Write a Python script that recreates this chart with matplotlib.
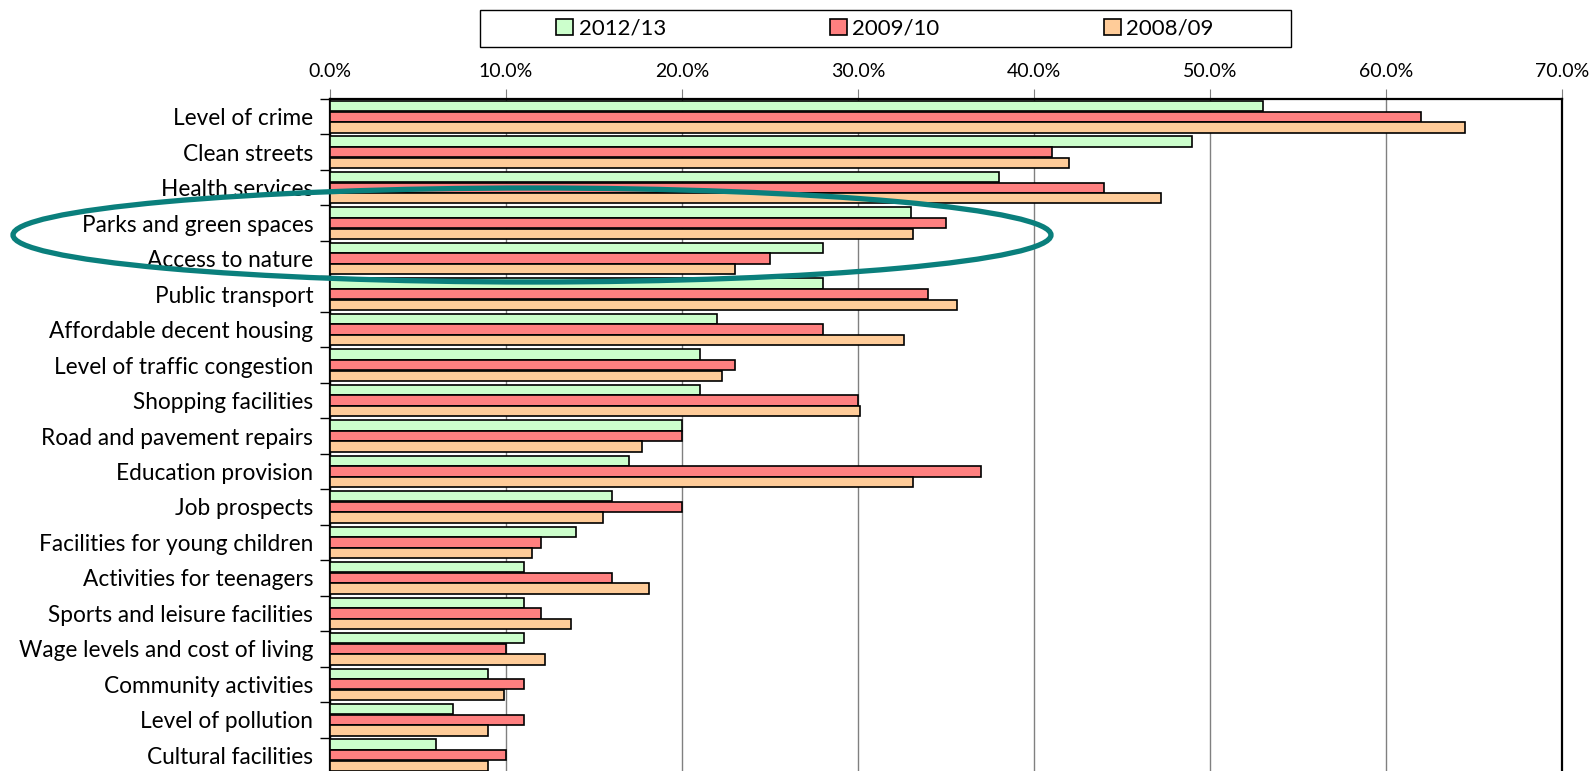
import numpy as np
import matplotlib
matplotlib.use("Agg")
import matplotlib.pyplot as plt
from matplotlib.patches import Ellipse, Rectangle

plt.rcParams['font.family'] = ['Lato', 'DejaVu Sans']

# survey categories, top to bottom
categories = [
    "Level of crime", "Clean streets", "Health services",
    "Parks and green spaces", "Access to nature", "Public transport",
    "Affordable decent housing", "Level of traffic congestion",
    "Shopping facilities", "Road and pavement repairs",
    "Education provision", "Job prospects",
    "Facilities for young children", "Activities for teenagers",
    "Sports and leisure facilities", "Wage levels and cost of living",
    "Community activities", "Level of pollution", "Cultural facilities",
]

# percentages per survey year
y2012 = [53.0, 49.0, 38.0, 33.0, 28.0, 28.0, 22.0, 21.0, 21.0, 20.0,
         17.0, 16.0, 14.0, 11.0, 11.0, 11.0, 9.0, 7.0, 6.0]
y2009 = [62.0, 41.0, 44.0, 35.0, 25.0, 34.0, 28.0, 23.0, 30.0, 20.0,
         37.0, 20.0, 12.0, 16.0, 12.0, 10.0, 11.0, 11.0, 10.0]
y2008 = [64.5, 42.0, 47.2, 33.1, 23.0, 35.6, 32.6, 22.3, 30.1, 17.7,
         33.1, 15.5, 11.5, 18.1, 13.7, 12.2, 9.9, 9.0, 9.0]

series = [("2012/13", y2012, "#CCFFCC"),
          ("2009/10", y2009, "#FF8080"),
          ("2008/09", y2008, "#FFCC99")]

fig = plt.figure(figsize=(15.93, 7.71), dpi=100)
ax = fig.add_axes([330 / 1593, 1 - 773 / 771, (1562 - 330) / 1593, (773 - 99) / 771])

pos = np.arange(len(categories))
h = 0.29
for i, (name, vals, col) in enumerate(series):
    ax.barh(pos + (i - 1) * 0.3, vals, height=h, color=col,
            edgecolor="black", linewidth=1.2, label=name, zorder=3)

ax.set_xlim(0, 70)
ax.set_ylim(len(categories) - 0.5, -0.5)

# percentage scale on top
ax.xaxis.tick_top()
ax.set_xticks(np.arange(0, 71, 10))
ax.set_xticklabels([f"{v:.1f}%" for v in range(0, 71, 10)], fontsize=14)
ax.tick_params(axis="x", length=7, color="#808080", pad=7)
ax.grid(axis="x", color="#808080", linewidth=1.0, zorder=0)

# category labels centred, tick marks between groups
ax.set_yticks(np.arange(-0.5, len(categories), 1.0))
ax.set_yticklabels([])
ax.set_yticks(pos, minor=True)
ax.set_yticklabels(categories, minor=True, fontsize=16.3)
ax.tick_params(axis="y", which="major", length=7, width=1.0)
ax.tick_params(axis="y", which="minor", length=0, pad=12)

for s in ["top", "right", "left", "bottom"]:
    ax.spines[s].set_linewidth(1.6)
    ax.spines[s].set_color("black")

# legend inside a plain box above the chart
fig.patches.append(Rectangle((480 / 1593, 1 - 47 / 771), 811 / 1593, 37 / 771,
                             transform=fig.transFigure, facecolor="white",
                             edgecolor="black", linewidth=1.0))
handles, labels = ax.get_legend_handles_labels()
fig.legend(handles, labels, loc="center", ncol=3, frameon=False,
           bbox_to_anchor=(885 / 1593, 1 - 28.5 / 771), fontsize=16,
           handlelength=0.75, handleheight=0.75, handletextpad=0.25,
           columnspacing=7.4)

# highlight ring around the green-space rows
fig.patches.append(Ellipse((532 / 1593, 1 - 235 / 771), 1038 / 1593, 94 / 771,
                           transform=fig.transFigure, fill=False,
                           edgecolor="#0A7F7C", linewidth=3.8, zorder=10))

fig.savefig("out.png", dpi=100)
